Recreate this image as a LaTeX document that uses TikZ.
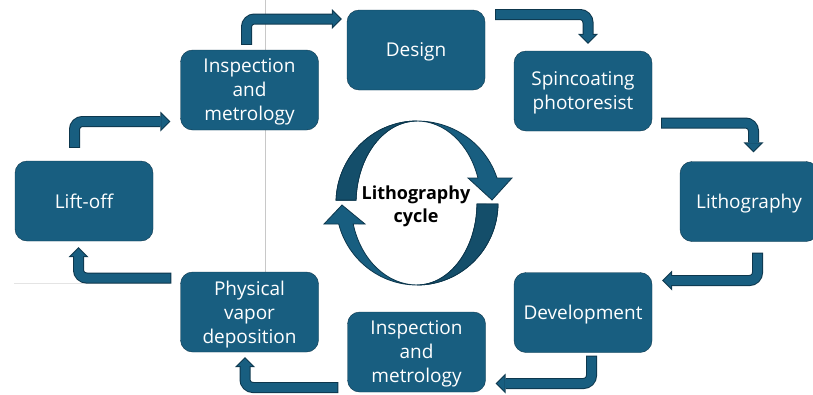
\documentclass[tikz,border=0pt]{standalone}
\usepackage{fontspec}
\setmainfont{Open Sans}
\usepackage{color}
\usetikzlibrary{arrows.meta,positioning}

\definecolor{boxcol}{RGB}{24,94,128}
\definecolor{shadecol}{RGB}{20,78,106}
\definecolor{edgecol}{RGB}{13,55,77}
\definecolor{guidecol}{RGB}{200,200,200}

\begin{document}
\begin{tikzpicture}[x=1pt,y=-1pt]
	\useasboundingbox (0,0) rectangle (813,394);
	\tikzset{guide/.style={draw=guidecol,line width=0.7pt}}
	\tikzstyle{stage}=[draw=edgecol,fill=boxcol,text=white,rounded corners=12pt,minimum width=138pt,minimum height=80pt,align=center,inner sep=2pt,text depth=-2pt,font=\fontsize{19}{24}\selectfont]
	\tikzstyle{flowedge}=[draw=edgecol,line width=11pt,rounded corners=8pt,shorten <=-1pt,-{Triangle[length=10pt,width=20pt,line width=0pt]}]
	\tikzstyle{flowbody}=[draw=boxcol,line width=9pt,rounded corners=8pt,shorten >=1.4pt,-{Triangle[length=7.6pt,width=15.2pt,line width=0pt]}]
	\def\bentarrow#1#2#3{
		\draw[flowedge] #1 #3 #2;
		\draw[flowbody] #1 #3 #2;
	}

	%% Guide lines left on the slide
	\draw[guide] (265,0) -- (265,272);
	\draw[guide,draw=guidecol!50] (14,283) -- (170,283);

	%% Process steps
	\node[stage] (lift) at (84,201) {Lift-off};
	\node[stage] (inspA) at (249.5,90) {Inspection\\and\\metrology};
	\node[stage] (design) at (416,50) {Design};
	\node[stage] (spin) at (583,91) {Spincoating\\photoresist};
	\node[stage] (litho) at (749,201.5) {Lithography};
	\node[stage] (dev) at (583,312.5) {Development};
	\node[stage] (inspB) at (416.5,352) {Inspection\\and\\metrology};
	\node[stage] (pvd) at (249.5,312) {Physical\\vapor\\deposition};

	%% Bent arrows between the steps
	\bentarrow{([shift={(-9.5,-14)}]lift.north)}{([shift={(-10,31.5)}]inspA.west)}{|-}
	\bentarrow{([shift={(-3,-6)}]inspA.north)}{([shift={(-5,-31)}]design.west)}{|-}
	\bentarrow{([shift={(11,-35.5)}]design.east)}{([shift={(5,-7)}]spin.north)}{-|}
	\bentarrow{([shift={(10,32)}]spin.east)}{([shift={(4.5,-9)}]litho.north)}{-|}
	\bentarrow{([shift={(8.5,12)}]litho.south)}{([shift={(10,-32)}]dev.east)}{|-}
	\bentarrow{([shift={(8.5,4)}]dev.south)}{([shift={(10,31.5)}]inspB.east)}{|-}
	\bentarrow{([shift={(-10,35.5)}]inspB.west)}{([shift={(-4.5,5)}]pvd.south)}{-|}
	\bentarrow{([shift={(-10,-34)}]pvd.west)}{([shift={(-5.5,6)}]lift.south)}{-|}

	%% Cycle in the middle
	\coordinate (hub) at (417,203);
	\begin{scope}[shift={(hub)},draw=edgecol,line width=0.8pt]
		\filldraw[fill=boxcol] (-80.95,-2.86) arc[start angle=182,end angle=270,x radius=81,y radius=82]
			arc[start angle=270,end angle=342.25,x radius=84,y radius=82]
			-- (95,-25) -- (75,-3) -- (51,-25) -- (60.95,-25)
			arc[start angle=342.25,end angle=270,x radius=64,y radius=82]
			arc[start angle=270,end angle=182,x radius=61,y radius=82] -- cycle;
		\filldraw[fill=shadecol] (-80.95,-2.86) arc[start angle=182,end angle=270,x radius=81,y radius=82]
			arc[start angle=270,end angle=182,x radius=61,y radius=82] -- cycle;
		\filldraw[fill=boxcol] (80.99,1) arc[start angle=0.7,end angle=165.16,x radius=81,y radius=82]
			-- (-93,21) -- (-75,2) -- (-52,21) -- (-63.8,20.99)
			arc[start angle=165.16,end angle=90,x radius=66,y radius=82]
			arc[start angle=90,end angle=0.7,x radius=60,y radius=82] -- cycle;
		\filldraw[fill=shadecol] (80.99,1) arc[start angle=0.7,end angle=90,x radius=81,y radius=82]
			arc[start angle=90,end angle=0.7,x radius=60,y radius=82] -- cycle;
	\end{scope}
	\node[font=\bfseries\fontsize{18}{23}\selectfont,align=center] (title) at (416,206) {Lithography\\cycle};
\end{tikzpicture}
\end{document}
